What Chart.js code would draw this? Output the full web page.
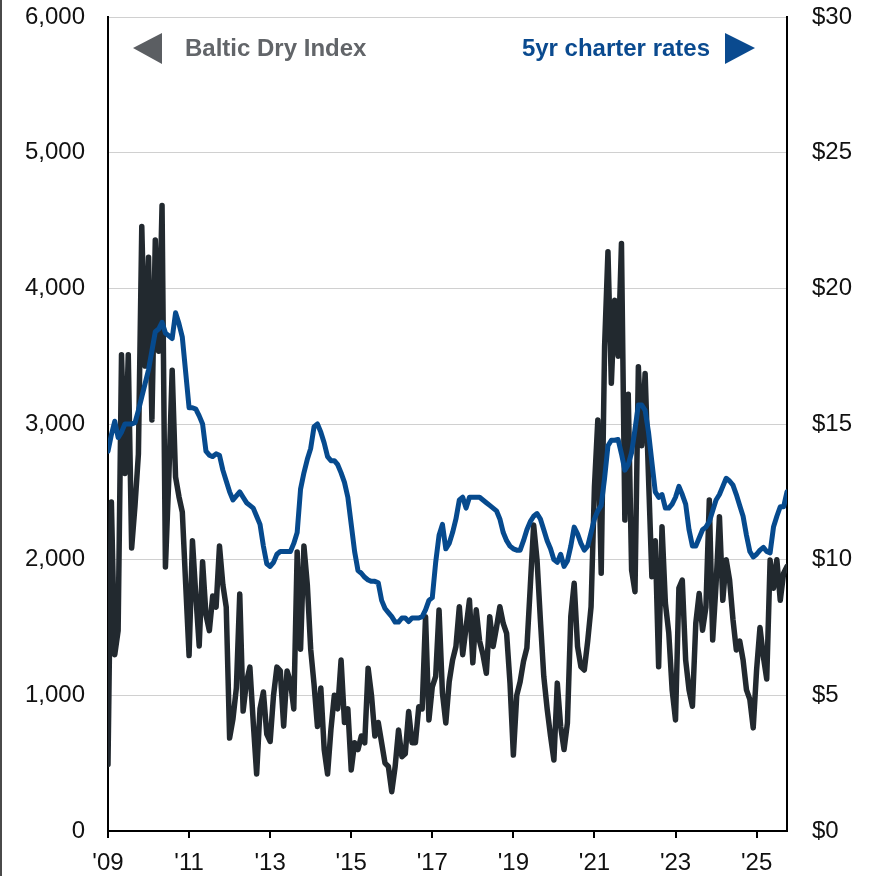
<!DOCTYPE html>
<html>
<head>
<meta charset="utf-8">
<script src="https://cdn.jsdelivr.net/npm/chart.js"></script>
<style>
  html, body { margin: 0; padding: 0; background: #fff; }
  #wrap { position: relative; width: 870px; height: 876px; overflow: hidden; }
  #frame { position: absolute; left: 0; top: 0; width: 2px; height: 876px; background: #4a4a4a; }
</style>
</head>
<body>
<div id="wrap">
  <canvas id="chart" width="870" height="876"></canvas>
  <div id="frame"></div>
</div>
<script>
// monthly series, first value = Jan 2009
const startYear = 2009;
const yearTicks = [2009, 2011, 2013, 2015, 2017, 2019, 2021, 2023, 2025];
const bdiTicks = [0, 1000, 2000, 3000, 4000, 5000, 6000];
const rateTicks = [0, 5, 10, 15, 20, 25, 30];

const bdiLabel = 'Baltic Dry Index';
const rateLabel = '5yr charter rates';

const bdiValues = [
  490, 2425, 1300, 1477, 3510, 2635, 3510, 2086, 2400, 2778, 4456, 3427,   // 2009
  4230, 3030, 4357, 3537, 4611, 1946, 2600, 3397, 2609, 2465, 2350, 1816,  // 2010
  1293, 2140, 1733, 1364, 1985, 1592, 1477, 1733, 1650, 2100, 1816, 1650,  // 2011
  685, 828, 1054, 1747, 884, 1100, 1208, 800, 420, 900, 1025, 715,         // 2012
  660, 1000, 1208, 1180, 773, 1180, 1100, 900, 2056, 1340, 2100, 1816,     // 2013
  1340, 1080, 770, 1054, 600, 420, 750, 1000, 900, 1260, 800, 900,         // 2014
  450, 650, 600, 700, 650, 1200, 1000, 700, 800, 650, 500, 475,            // 2015
  290, 474, 744, 548, 570, 880, 650, 650, 916, 900, 1580, 818,             // 2016
  1063, 1140, 1629, 1017, 796, 1100, 1260, 1360, 1653, 1300, 1500, 1702,   // 2017
  1240, 1630, 1400, 1300, 1163, 1580, 1360, 1500, 1653, 1530, 1457, 1090,  // 2018
  560, 1000, 1100, 1250, 1350, 1800, 2255, 2000, 1555, 1140, 900, 700,     // 2019
  523, 1090, 770, 600, 796, 1580, 1826, 1360, 1210, 1187, 1400, 1653,      // 2020
  2537, 3030, 1900, 3569, 4270, 3300, 3913, 3500, 4331, 2292, 3220, 1923,  // 2021
  1764, 3422, 2840, 3373, 2611, 1874, 2140, 1211, 2243, 1680, 1460, 1040,  // 2022
  818, 1790, 1850, 1260, 1040, 920, 1530, 1750, 1480, 1650, 2440, 1408,    // 2023
  1820, 2317, 1700, 2000, 1850, 1560, 1334, 1400, 1260, 1040, 970, 760,    // 2024
  1187, 1500, 1285, 1120, 1997, 1790, 2000, 1700, 1900, 1950               // 2025
];

const rateValues = [
  14.0, 14.6, 15.1, 14.5, 14.7, 15.0, 15.0, 15.0, 15.05, 15.5, 16.0, 16.5,     // 2009
  17.0, 17.7, 18.4, 18.5, 18.75, 18.35, 18.25, 18.15, 19.1, 18.7, 18.2, 16.9,  // 2010
  15.6, 15.6, 15.55, 15.3, 15.0, 14.0, 13.85, 13.8, 13.9, 13.85, 13.3, 12.9,   // 2011
  12.5, 12.2, 12.35, 12.5, 12.3, 12.1, 12.0, 11.9, 11.6, 11.3, 10.5, 9.85,     // 2012
  9.75, 9.9, 10.2, 10.3, 10.3, 10.3, 10.3, 10.6, 11.0, 12.6, 13.2, 13.7,       // 2013
  14.1, 14.9, 15.0, 14.7, 14.3, 13.8, 13.65, 13.65, 13.5, 13.2, 12.85, 12.3,   // 2014
  11.3, 10.3, 9.6, 9.5, 9.35, 9.25, 9.2, 9.2, 9.15, 8.5, 8.2, 8.05,            // 2015
  7.9, 7.7, 7.7, 7.85, 7.85, 7.72, 7.85, 7.85, 7.85, 7.9, 8.15, 8.5,           // 2016
  8.6, 9.9, 10.9, 11.3, 10.4, 10.6, 11.0, 11.5, 12.2, 12.3, 11.9, 12.3,        // 2017
  12.3, 12.3, 12.3, 12.2, 12.1, 12.0, 11.9, 11.8, 11.5, 11.0, 10.7, 10.5,      // 2018
  10.4, 10.35, 10.35, 10.7, 11.1, 11.4, 11.6, 11.7, 11.5, 11.1, 10.7, 10.4,    // 2019
  10.0, 9.9, 10.2, 9.75, 9.95, 10.5, 11.2, 10.95, 10.6, 10.35, 10.5, 11.0,     // 2020
  11.5, 11.8, 12.0, 13.0, 14.2, 14.4, 14.4, 14.43, 13.9, 13.3, 13.5, 13.95,    // 2021
  14.8, 15.7, 15.7, 15.5, 14.7, 13.6, 12.5, 12.3, 12.4, 11.9, 11.9, 12.05,     // 2022
  12.3, 12.7, 12.4, 12.05, 11.1, 10.5, 10.5, 10.8, 11.1, 11.2, 11.4, 11.8,     // 2023
  12.2, 12.4, 12.7, 13.0, 12.9, 12.75, 12.4, 12.0, 11.6, 10.9, 10.3, 10.1,     // 2024
  10.2, 10.35, 10.45, 10.3, 10.25, 11.2, 11.6, 11.95, 11.95, 12.5              // 2025
];

const FONT = '"Liberation Sans", Arial, sans-serif';

function toPoints(values) {
  return values.map((v, i) => ({ x: startYear + i / 12, y: v }));
}

// legend drawn in the top corners of the plot
const cornerLegend = {
  id: 'cornerLegend',
  afterDraw(chart) {
    const ctx = chart.ctx;
    const a = chart.chartArea;
    ctx.save();
    ctx.font = 'bold 24px ' + FONT;
    ctx.textBaseline = 'middle';

    ctx.fillStyle = '#5b5e62';
    ctx.beginPath();
    ctx.moveTo(a.left + 25, a.top + 31);
    ctx.lineTo(a.left + 54, a.top + 16);
    ctx.lineTo(a.left + 54, a.top + 47);
    ctx.closePath();
    ctx.fill();
    ctx.fillStyle = '#626569';
    ctx.textAlign = 'left';
    ctx.fillText(bdiLabel, a.left + 77, a.top + 32);

    ctx.fillStyle = '#0a4a8f';
    ctx.beginPath();
    ctx.moveTo(a.right - 62, a.top + 16);
    ctx.lineTo(a.right - 62, a.top + 47);
    ctx.lineTo(a.right - 32, a.top + 31);
    ctx.closePath();
    ctx.fill();
    ctx.textAlign = 'right';
    ctx.fillText(rateLabel, a.right - 77, a.top + 32);
    ctx.restore();
  }
};

// y axes: fixed width, no extra room for the top/bottom tick labels
function fitY(width) {
  return s => {
    s.width = width;
    s.paddingTop = 0;
    s.paddingBottom = 0;
  };
}

const ctx = document.getElementById('chart').getContext('2d');
new Chart(ctx, {
  type: 'line',
  data: {
    datasets: [
      {
        label: rateLabel,
        data: toPoints(rateValues),
        yAxisID: 'yRight',
        borderColor: '#064a8e',
        borderWidth: 5,
        pointRadius: 0,
        tension: 0,
        borderJoinStyle: 'round',
        borderCapStyle: 'round',
        order: 0
      },
      {
        label: bdiLabel,
        data: toPoints(bdiValues),
        yAxisID: 'yLeft',
        borderColor: '#22292f',
        borderWidth: 5.5,
        pointRadius: 0,
        tension: 0,
        borderJoinStyle: 'round',
        borderCapStyle: 'round',
        order: 1
      }
    ]
  },
  options: {
    responsive: false,
    animation: false,
    devicePixelRatio: 1,
    layout: { padding: { top: 17, left: 0, right: 0, bottom: 0 } },
    plugins: {
      legend: { display: false },
      tooltip: { enabled: false }
    },
    scales: {
      x: {
        type: 'linear',
        min: startYear,
        max: startYear + (bdiValues.length - 1) / 12,
        afterBuildTicks: s => { s.ticks = yearTicks.map(v => ({ value: v })); },
        afterFit: s => { s.height = 45; s.paddingLeft = 0; s.paddingRight = 0; },
        grid: { drawOnChartArea: false, drawTicks: true, tickLength: 7, color: '#000', lineWidth: 2 },
        border: { display: true, color: '#000', width: 2 },
        ticks: {
          padding: 11,
          color: '#111',
          font: { family: FONT, size: 24 },
          maxRotation: 0,
          callback: v => "'" + String(v).slice(2)
        }
      },
      yLeft: {
        position: 'left',
        min: 0,
        max: 6000,
        afterBuildTicks: s => { s.ticks = bdiTicks.map(v => ({ value: v })); },
        afterFit: fitY(108),
        grid: { color: '#d0d0d0', lineWidth: 1, drawTicks: false },
        border: { display: true, color: '#000', width: 2 },
        ticks: {
          padding: 23,
          color: '#111',
          font: { family: FONT, size: 24 },
          callback: v => v.toLocaleString('en-US')
        }
      },
      yRight: {
        position: 'right',
        min: 0,
        max: 30,
        afterBuildTicks: s => { s.ticks = rateTicks.map(v => ({ value: v })); },
        afterFit: fitY(83),
        grid: { drawOnChartArea: false, drawTicks: false },
        border: { display: true, color: '#000', width: 2 },
        ticks: {
          padding: 25,
          color: '#111',
          font: { family: FONT, size: 24 },
          callback: v => '$' + v
        }
      }
    }
  },
  plugins: [cornerLegend]
});
</script>
</body>
</html>
